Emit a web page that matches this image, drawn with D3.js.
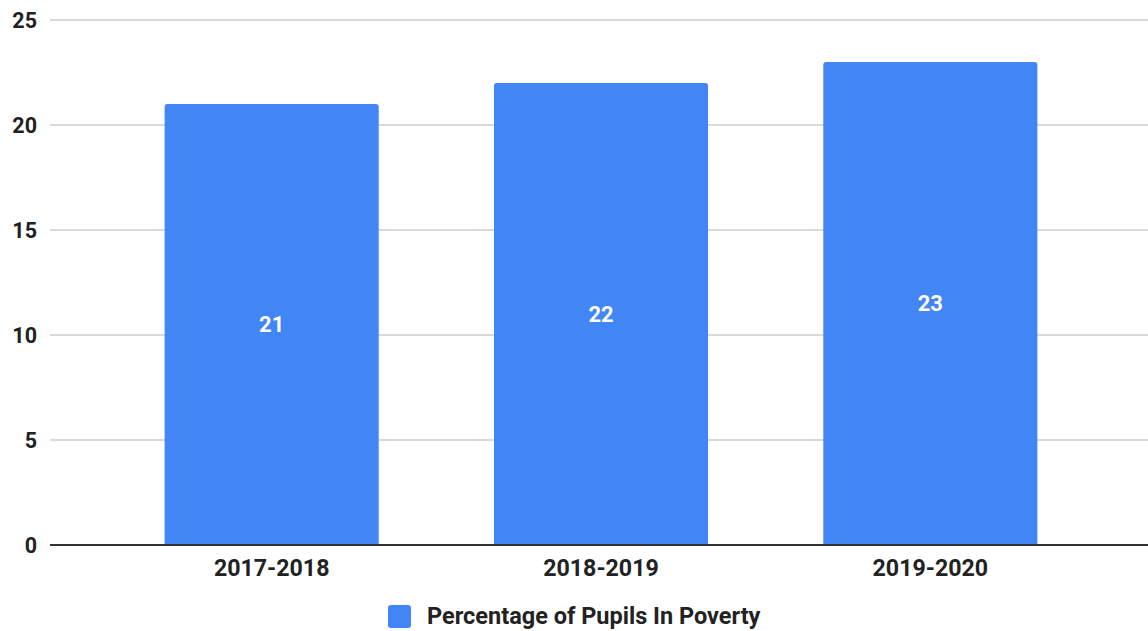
<!DOCTYPE html>
<html><head><meta charset="utf-8">
<script src="https://cdn.jsdelivr.net/npm/d3@7"></script>
<style>body{margin:0;background:#fff}svg{display:block}text{font-family:Roboto,"Noto Sans",sans-serif;font-weight:bold}</style>
</head><body><svg id="c" width="1148" height="631"></svg>
<script>
const categories = ["2017-2018","2018-2019","2019-2020"];
const values = [21,22,23];
const yTicks = [0,5,10,15,20,25];
const seriesName = "Percentage of Pupils In Poverty";

const svg = d3.select("#c");
const W=1148,H=631;
const y = d3.scaleLinear().domain([0,25]).range([545,20]);
const x = d3.scaleBand().domain(categories).range([107,1095]).paddingInner(0.35).paddingOuter(0.175);
const color="#4285F4";

// gridlines
svg.append("g").selectAll("line").data(yTicks.filter(d=>d>0)).join("line")
 .attr("x1",50).attr("x2",W).attr("y1",d=>y(d)).attr("y2",d=>y(d))
 .attr("stroke","#cccccc").attr("stroke-width",1.5);

// y labels
svg.append("g").selectAll("text").data(yTicks).join("text")
 .attr("x",37).attr("y",d=>y(d)).attr("dy","0.36em").attr("text-anchor","end")
 .attr("font-size",21.5).attr("fill","#222").text(d=>d);

// bars with rounded top corners
const r=3;
svg.append("g").selectAll("path").data(values).join("path")
 .attr("fill",color)
 .attr("d",(d,i)=>{const x0=x(categories[i]),w=x.bandwidth(),y0=y(d),yb=y(0);
   return `M${x0},${yb}V${y0+r}Q${x0},${y0} ${x0+r},${y0}H${x0+w-r}Q${x0+w},${y0} ${x0+w},${y0+r}V${yb}Z`;});

// value labels
svg.append("g").selectAll("text").data(values).join("text")
 .attr("x",(d,i)=>x(categories[i])+x.bandwidth()/2)
 .attr("y",d=>(y(d)+y(0))/2).attr("dy","0.36em").attr("text-anchor","middle")
 .attr("font-size",22).attr("fill","#fff").text(d=>d);

// baseline
svg.append("line").attr("x1",50).attr("x2",W).attr("y1",y(0)).attr("y2",y(0))
 .attr("stroke","#333").attr("stroke-width",2);

// x labels
svg.append("g").selectAll("text").data(categories).join("text")
 .attr("x",d=>x(d)+x.bandwidth()/2).attr("y",576).attr("text-anchor","middle")
 .attr("font-size",23.2).attr("fill","#222").text(d=>d);

// legend
const lg=svg.append("g");
lg.append("rect").attr("x",388).attr("y",605).attr("width",23).attr("height",23).attr("rx",3).attr("fill",color);
lg.append("text").attr("x",427).attr("y",624).attr("font-size",23.5).attr("fill","#222").text(seriesName);
</script></body></html>
